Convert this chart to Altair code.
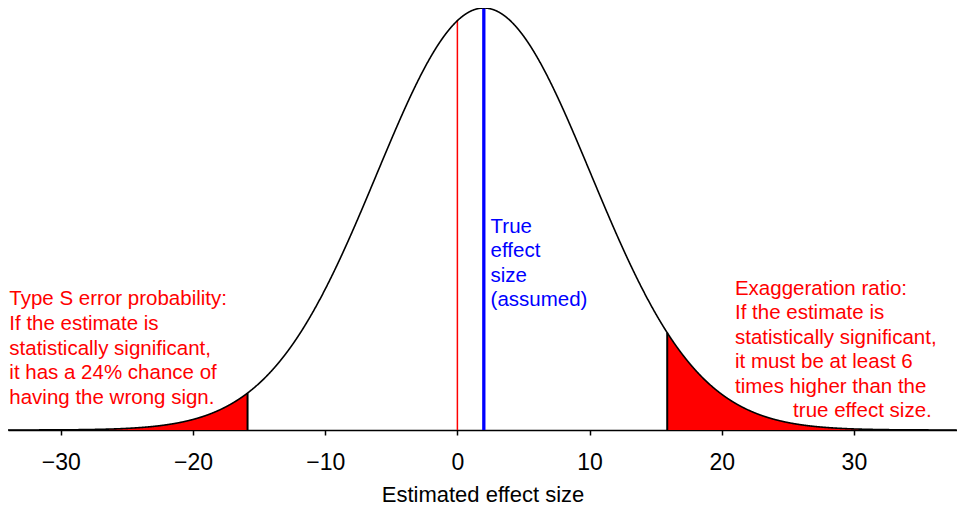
import math
import altair as alt
import pandas as pd

# Chart parameters
true_effect = 2.0          # assumed true effect size
std_error = 8.1            # standard error of the estimate
z_crit = 1.96              # significance threshold (two-sided 5%)
x_domain = [-34.0, 37.8]
x_ticks = [-30, -20, -10, 0, 10, 20, 30]
curve_step = 0.02

left_lines = [
    "Type S error probability:",
    "If the estimate is",
    "statistically significant,",
    "it has a 24% chance of",
    "having the wrong sign.",
]
right_lines = [
    "Exaggeration ratio:",
    "If the estimate is",
    "statistically significant,",
    "it must be at least 6",
    "times higher than the",
]
right_last_line = "true effect size."
true_lines = ["True", "effect", "size", "(assumed)"]

# annotation anchors (data units)
left_text_pos = (-33.9, 0.01640)
right_text_pos = (21.0, 0.01768)
right_last_pos = (25.4, 0.00344)
true_text_pos = (2.51, 0.02490)

crit = z_crit * std_error
peak = 1.0 / (std_error * math.sqrt(2 * math.pi))
density_expr = f"densityNormal(datum.x, {true_effect}, {std_error})"

FONT = "Liberation Sans"

x_enc = alt.X(
    "x:Q",
    scale=alt.Scale(domain=x_domain, nice=False, zero=False),
    axis=alt.Axis(
        values=x_ticks,
        format="d",
        grid=False,
        domainColor="black",
        domainWidth=1.5,
        tickColor="black",
        tickWidth=1.5,
        tickSize=5,
        labelFontSize=23,
        labelFont=FONT,
        labelColor="black",
        labelBaseline="alphabetic",
        labelPadding=34,
        titleFontSize=22,
        titleFont=FONT,
        titleFontWeight="normal",
        titleColor="black",
        titleBaseline="alphabetic",
        titleY=71,
    ),
    title="Estimated effect size",
)
y_enc = alt.Y("y:Q", scale=alt.Scale(domain=[0, peak], nice=False), axis=None)

curve_base = alt.Chart(
    alt.sequence(x_domain[0], x_domain[1], curve_step, as_="x")
).transform_calculate(y=density_expr)

left_area = curve_base.transform_filter(f"datum.x <= {-crit}").mark_area(
    color="red"
).encode(x=x_enc, y=y_enc, y2=alt.datum(0))
right_area = curve_base.transform_filter(f"datum.x >= {crit}").mark_area(
    color="red"
).encode(x=x_enc, y=y_enc, y2=alt.datum(0))

edges = alt.Chart(pd.DataFrame({"x": [-crit, crit]})).transform_calculate(
    y=density_expr
).mark_rule(color="black", strokeWidth=2).encode(x=x_enc, y=y_enc, y2=alt.datum(0))

ref_lines = pd.DataFrame({"x": [0.0, true_effect], "kind": ["zero", "true"]})
zero_line = alt.Chart(ref_lines).transform_filter("datum.kind == 'zero'").transform_calculate(
    y=density_expr
).mark_rule(color="red", strokeWidth=1.5).encode(x=x_enc, y=y_enc, y2=alt.datum(0))
true_line = alt.Chart(ref_lines).transform_filter("datum.kind == 'true'").transform_calculate(
    y=density_expr
).mark_rule(color="blue", strokeWidth=3.3).encode(x=x_enc, y=y_enc, y2=alt.datum(0))

curve = curve_base.mark_line(color="black", strokeWidth=1.6).encode(x=x_enc, y=y_enc)

one = alt.Data(values=[{"a": 1}])


def text_layer(lines, pos, color, align="left"):
    return alt.Chart(one).mark_text(
        text=lines,
        align=align,
        baseline="top",
        font=FONT,
        fontSize=20.5,
        lineHeight=24.6,
        color=color,
    ).encode(x=alt.datum(pos[0]), y=alt.datum(pos[1]))


left_text = text_layer(left_lines, left_text_pos, "red")
right_text = text_layer(right_lines, right_text_pos, "red")
right_last = text_layer([right_last_line], right_last_pos, "red")
true_text = text_layer(true_lines, true_text_pos, "blue")

chart = alt.layer(
    left_area, right_area, edges, zero_line, true_line, curve,
    left_text, right_text, right_last, true_text,
).properties(
    width=949,
    height=422,
    autosize=alt.AutoSizeParams(type="none"),
    padding={"left": 0, "top": 0, "right": 0, "bottom": 77},
).configure_view(strokeWidth=0)

chart.save("out.html", embed_options={"renderer": "svg", "actions": False})
